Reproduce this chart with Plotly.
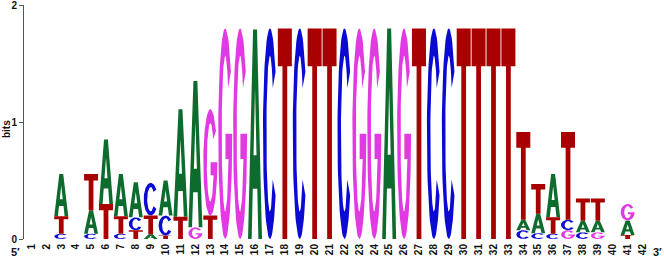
import numpy as np
import plotly.graph_objects as go

# ---------------- data (bits per letter at each position) ----------------
positions = list(range(1, 43))
A_bits = [0, 0, .36, 0, .20, .55, .36, .30, .04, .30, .92, 1.25, 0, 0, 0, 1.79, 0, 0, 0, 0, 0,
          0, 0, 0, 1.80, 0, 0, 0, 0, 0, 0, 0, 0, .09, .165, .37, 0, .10, .10, 0, .125, 0]
C_bits = [0, 0, .045, 0, .045, 0, .045, .11, .28, .17, 0, 0, 0, 0, 0, 0, 1.80, 0, 1.80, 0, 0,
          1.80, 0, 0, 0, 0, 0, 1.80, 1.80, 0, 0, 0, 0, .075, .05, .045, .09, .057, 0, 0, 0, 0]
G_bits = [0, 0, 0, 0, 0, 0, 0, 0, 0, 0, 0, .10, .91, 1.80, 1.80, 0, 0, 0, 0, 0, 0,
          0, 1.80, 1.80, 0, 1.80, 0, 0, 0, 0, 0, 0, 0, 0, 0, 0, .075, 0, .057, 0, .14, 0]
T_bits = [0, 0, .15, 0, .31, .30, .15, .075, .16, .03, .19, 0, .20, 0, 0, 0, 0, 1.80, 0, 1.80, 1.80,
          0, 0, 0, 0, 0, 1.80, 0, 0, 1.80, 1.80, 1.80, 1.80, .75, .255, .14, .75, .19, .19, 0, .034, 0]
letters = ["A", "C", "G", "T"]
colors = {"A": "#0e6b2e", "C": "#0a0ad2", "G": "#e23ae2", "T": "#a80000"}
bits = {"A": A_bits, "C": C_bits, "G": G_bits, "T": T_bits}

# ---------------- glyph outlines in a unit box ----------------
def glyph_T():
    return [(0, 1), (1, 1), (1, .82), (.67, .82), (.67, 0), (.33, 0), (.33, .82), (0, .82), (0, 1)]

def glyph_A():
    return [(0, 0), (.36, 1), (.64, 1), (1, 0), (.74, 0), (.66, .24), (.5, .24),
            (.5, .40), (.607, .40), (.5, .72), (.393, .40), (.5, .40), (.5, .24),
            (.34, .24), (.26, 0), (0, 0)]

def glyph_C():
    a0, a1 = 36, 324
    rxi, ryi = .25, .37
    pts = []
    for t in np.linspace(a0, a1, 60):
        r = np.radians(t)
        pts.append((.5 + .5 * np.cos(r), .5 + .5 * np.sin(r)))
    for t in np.linspace(a1, a0, 60):
        r = np.radians(t)
        pts.append((.5 + rxi * np.cos(r), .5 + ryi * np.sin(r)))
    pts.append(pts[0])
    return pts

def glyph_G():
    rxi, ryi = .25, .37
    pts = []
    for t in np.linspace(36, 360, 70):
        r = np.radians(t)
        pts.append((.5 + .5 * np.cos(r), .5 + .5 * np.sin(r)))
    pts += [(1, .5), (.52, .5), (.52, .38)]
    tb = 360 + np.degrees(np.arcsin((.38 - .5) / ryi))
    pts.append((.5 + rxi * np.cos(np.radians(tb)), .38))
    for t in np.linspace(tb, 36, 70):
        r = np.radians(t)
        pts.append((.5 + rxi * np.cos(r), .5 + ryi * np.sin(r)))
    pts.append(pts[0])
    return pts

glyphs = {"A": glyph_A(), "C": glyph_C(), "G": glyph_G(), "T": glyph_T()}

W = 0.94
xs = {L: [] for L in letters}
ys = {L: [] for L in letters}
for i, p in enumerate(positions):
    stack = sorted([(bits[L][i], L) for L in letters if bits[L][i] > 0])
    y0 = 0.0
    for h, L in stack:
        for u, v in glyphs[L]:
            xs[L].append(p - W / 2 + u * W)
            ys[L].append(y0 + v * h)
        xs[L].append(None)
        ys[L].append(None)
        y0 += h

fig = go.Figure()
for L in letters:
    fig.add_trace(go.Scatter(x=xs[L], y=ys[L], mode="lines", fill="toself",
                             fillcolor=colors[L], line=dict(width=0, color=colors[L]),
                             hoverinfo="skip", showlegend=False))

font = dict(family="Liberation Sans, Arial, sans-serif", color="#111111", weight="bold")
fig.update_layout(
    width=664, height=257, template="none",
    margin=dict(l=24, r=14, t=5, b=18, autoexpand=False),
    paper_bgcolor="white", plot_bgcolor="white",
    xaxis=dict(range=[0.5, 42.5], tickmode="array", tickvals=positions,
               ticktext=[str(p) for p in positions], tickangle=-90, ticks="",
               showline=False, showgrid=False, zeroline=False, automargin=False,
               ticklabelstandoff=2,
               ticklabeloverflow="allow", tickfont=dict(size=10, **font)),
    yaxis=dict(range=[0, 2], tickvals=[0, 1, 2], ticks="outside", ticklen=4,
               tickcolor="#555555", showline=True, linecolor="#555555", linewidth=1,
               showgrid=False, zeroline=False, automargin=False,
               ticklabeloverflow="allow", tickfont=dict(size=10, **font)),
    annotations=[
        dict(text="bits", xref="paper", yref="paper", x=0, y=0.47, xshift=-18,
             xanchor="center", yanchor="middle",
             textangle=-90, showarrow=False, font=dict(size=10, **font)),
        dict(text="5′", xref="paper", yref="paper", x=0, y=0, xshift=-9, yshift=-13,
             xanchor="center", yanchor="middle",
             showarrow=False, font=dict(size=11, **font)),
        dict(text="3′", xref="paper", yref="paper", x=1, y=0, xshift=7, yshift=-13,
             xanchor="center", yanchor="middle",
             showarrow=False, font=dict(size=11, **font)),
    ],
)
fig.write_html("out.html", config={"displayModeBar": False},
               post_script="document.body.style.margin='0';")
